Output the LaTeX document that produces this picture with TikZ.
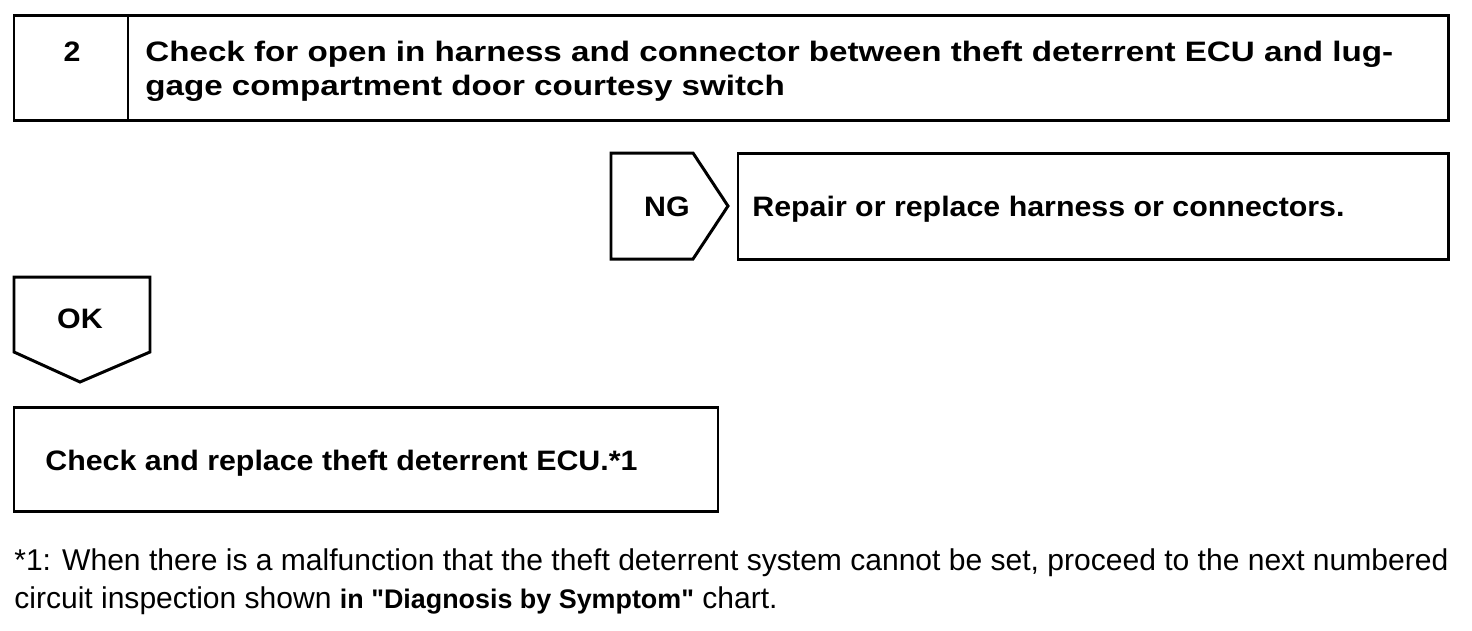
\documentclass[tikz,border=0pt]{standalone}
\usepackage{fontspec}
\setmainfont{Liberation Sans}
\newfontfamily\boxfont[FakeStretch=1.08]{Liberation Sans}
\newfontfamily\headfont[FakeStretch=1.18]{Liberation Sans}
\usetikzlibrary{positioning}

\begin{document}
\begin{tikzpicture}[
    x=0.02cm,y=-0.02cm,
    box/.style={draw,line width=1.7pt,line join=miter},
    txt/.style={font=\boxfont\bfseries\fontsize{16}{19.5}\selectfont,inner sep=0pt},
    head/.style={font=\headfont\bfseries\fontsize{16}{19.5}\selectfont,inner sep=0pt,anchor=base west},
    note/.style={font=\fontsize{17.1}{19.5}\selectfont,inner sep=0pt,anchor=base west}
  ]
    \useasboundingbox (0,0) rectangle (1472,630);
    % step header
    \draw[box] (14,15) rectangle (1448,120);
    \draw[box] (128,15) -- (128,120);
    \node[txt,anchor=base] (num) at (72,61) {2};
    \node[head] (title) at (145,61) {Check for open in harness and connector between theft deterrent ECU and lug-};
    \node[head] (title2) at (145,95) {gage compartment door courtesy switch};
    % NG branch
    \draw[box] (611,153) -- (693,153) -- (728,206) -- (693,259) -- (611,259) -- cycle;
    \node[txt,anchor=base] (ng) at (667,216) {NG};
    \draw[box] (738,153) rectangle (1448,259);
    \node[txt,anchor=base west] (repair) at (752,216) {Repair or replace harness or connectors.};
    % OK branch
    \draw[box] (14,277) -- (150,277) -- (150,352) -- (80,382) -- (14,352) -- cycle;
    \node[txt,anchor=base] (ok) at (80,328) {OK};
    \draw[box] (14,407) rectangle (718,511);
    \node[txt,anchor=base west] (ecu) at (45,470) {Check and replace theft deterrent ECU.*1};
    % footnote
    \node[note] (fn1) at (14,570) {*1: When there is a malfunction that the theft deterrent system cannot be set, proceed to the next numbered};
    \node[note] (fn2) at (14,608) {circuit inspection shown {\bfseries\fontsize{15.3}{17}\selectfont in \textquotedbl Diagnosis by Symptom\textquotedbl} chart.};
\end{tikzpicture}
\end{document}
